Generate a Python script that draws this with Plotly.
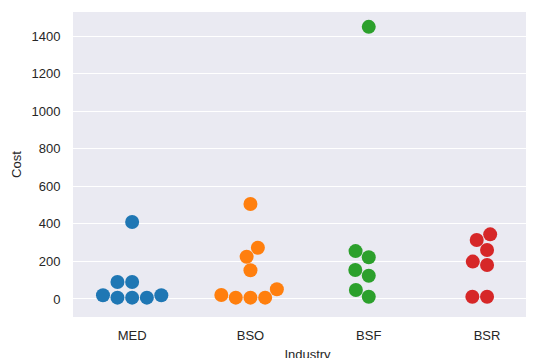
import numpy as np
import plotly.graph_objects as go

categories = ["MED", "BSO", "BSF", "BSR"]
colors = ["#1f77b4", "#ff7f0e", "#2ca02c", "#d62728"]
cost_med = [410, 90, 90, 20, 7, 7, 7, 20]
cost_bso = [506, 273, 225, 153, 52, 21, 7, 7, 7]
cost_bsf = [1449, 255, 222, 154, 124, 48, 12]
cost_bsr = [12, 12, 199, 181, 261, 314, 344]
series = [cost_med, cost_bso, cost_bsf, cost_bsr]
y_ticks = [0, 200, 400, 600, 800, 1000, 1200, 1400]

W, H = 534, 358
ML, MR, MT, MB = 65, 0, 4, 49
PX_PER_CAT = 118.3
YMIN, YMAX = -96, 1528
XMIN = -0.5
XMAX = XMIN + (W - ML - MR) / PX_PER_CAT
plot_h = H - MT - MB
py_per_unit = plot_h / (YMAX - YMIN)
D = 14.0  # marker diameter in px


def could_overlap(yi, swarm):
    neigh = []
    for xj, yj in reversed(swarm):
        if (yi - yj) < D:
            neigh.append((xj, yj))
        else:
            break
    return neigh[::-1]


def position_candidates(xi, yi, neigh):
    cands = [(xi, yi)]
    left_first = True
    for xj, yj in neigh:
        dy = yi - yj
        dx = np.sqrt(max(D ** 2 - dy ** 2, 0)) * 1.05
        cl, cr = (xj - dx, yi), (xj + dx, yi)
        cands.extend([cl, cr] if left_first else [cr, cl])
        left_first = not left_first
    return cands


def first_ok(cands, neigh):
    if not neigh:
        return cands[0]
    nx = np.array([n[0] for n in neigh])
    ny = np.array([n[1] for n in neigh])
    for xi, yi in cands:
        if np.all((nx - xi) ** 2 + (ny - yi) ** 2 >= D ** 2):
            return (xi, yi)
    return cands[0]


def beeswarm(xs, ys):
    mid = xs[0]
    swarm = [(xs[0], ys[0])]
    for xi, yi in zip(xs[1:], ys[1:]):
        neigh = could_overlap(yi, swarm)
        cands = position_candidates(xi, yi, neigh)
        offs = np.round(np.abs(np.array([c[0] for c in cands]) - mid), 6)
        order = np.argsort(offs, kind="stable")
        cands = [cands[k] for k in order]
        swarm.append(first_ok(cands, neigh))
    return swarm


fig = go.Figure()
for ci, (cat, vals, col) in enumerate(zip(categories, series, colors)):
    vals = np.sort(np.array(vals, dtype=float))
    x_disp = ML + (ci - XMIN) * PX_PER_CAT
    xs = [x_disp] * len(vals)
    ys = [MB + (v - YMIN) * py_per_unit for v in vals]
    sw = beeswarm(xs, ys)
    xdata = [XMIN + (p[0] - ML) / PX_PER_CAT for p in sw]
    fig.add_trace(go.Scatter(
        x=xdata, y=vals, mode="markers",
        marker=dict(size=D, color=col, line=dict(width=0)),
        showlegend=False, hoverinfo="y"))

font = dict(family="Liberation Sans, Arial, sans-serif", size=13, color="#262626")
fig.update_layout(
    width=W, height=H,
    margin=dict(l=ML, r=MR, t=MT, b=MB, autoexpand=False),
    paper_bgcolor="white", plot_bgcolor="#EAEAF2",
    font=font,
    xaxis=dict(range=[XMIN, XMAX], tickvals=list(range(len(categories))),
               ticktext=categories, showgrid=False, zeroline=False,
               showline=False, ticks="outside", ticklen=6,
               tickcolor="rgba(0,0,0,0)", tickfont=font,
               title=dict(text="Industry", font=font, standoff=8),
               automargin=False),
    yaxis=dict(range=[YMIN, YMAX], tickvals=y_ticks, showgrid=True,
               gridcolor="white", gridwidth=1.2, zeroline=False,
               showline=False, ticks="outside", ticklen=9,
               tickcolor="rgba(0,0,0,0)", tickfont=font,
               title=dict(text="Cost", font=font, standoff=6),
               automargin=False),
)
fig.write_html("out.html")
